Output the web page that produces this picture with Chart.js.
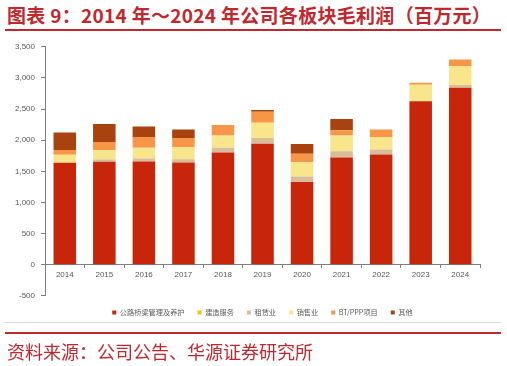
<!DOCTYPE html>
<html>
<head>
<meta charset="utf-8">
<script src="https://cdn.jsdelivr.net/npm/chart.js@4.4.1/dist/chart.umd.min.js"></script>
<style>
  body { margin: 0; background: #fff; width: 507px; height: 366px; overflow: hidden; position: relative; font-family: "Noto Sans CJK SC", sans-serif; }
  #title { position: absolute; left: 7px; top: 1px; font-size: 19px; font-weight: bold; color: #C0282E; white-space: nowrap; letter-spacing: 0.3px; }
  #topline { position: absolute; left: 5px; top: 29px; width: 496px; height: 2px; background: #C0282E; }
  #grayline { position: absolute; left: 5px; top: 322px; width: 496px; height: 1px; background: #d9d9d9; }
  #botline { position: absolute; left: 5px; top: 332px; width: 496px; height: 2px; background: #C0282E; }
  #source { position: absolute; left: 7px; top: 338px; font-size: 18px; color: #C0282E; white-space: nowrap; }
  #wrap { position: absolute; left: 0; top: 36px; width: 507px; height: 290px; }
</style>
</head>
<body>
<div id="title">图表 9：2014 年～2024 年公司各板块毛利润（百万元）</div>
<div id="topline"></div>
<div id="wrap"><canvas id="chart"></canvas></div>
<div id="grayline"></div>
<div id="botline"></div>
<div id="source">资料来源：公司公告、华源证券研究所</div>
<script>
// 年份
const years = ['2014', '2015', '2016', '2017', '2018', '2019', '2020', '2021', '2022', '2023', '2024'];

// 各板块毛利润（百万元）
const highway = [1636, 1652, 1657, 1640, 1803, 1944, 1327, 1722, 1770, 2626, 2843];
const construction = [0, 0, 0, 0, 0, 0, 0, 0, 0, 0, 0];
const leasing = [0, 38, 48, 55, 76, 92, 91, 102, 82, 0, 43];
const sales = [130, 152, 174, 195, 195, 243, 228, 250, 200, 265, 302];
const btppp = [76, 130, 173, 146, 168, 179, 136, 86, 120, 33, 109];
const others = [281, 286, 167, 136, 0, 27, 156, 179, 0, 0, 0];

const seriesNames = ['公路桥梁管理及养护', '建造服务', '租赁业', '销售业', 'BT/PPP项目', '其他'];
const seriesColors = ['#C8260A', '#FFC000', '#D9BC98', '#F8E58C', '#F79646', '#A8430F'];

// 图例整体右移一点
const legendShift = {
    id: 'legendShift',
    afterLayout(chart) {
        chart.legend.left += 18;
        chart.legend.right += 18;
    }
};

document.addEventListener('DOMContentLoaded', function () {
    const allData = [highway, construction, leasing, sales, btppp, others];
    const datasets = allData.map((d, i) => ({
        label: seriesNames[i],
        data: d,
        backgroundColor: seriesColors[i],
        borderWidth: 0,
        categoryPercentage: 1,
        barPercentage: 0.57
    }));

    const ctx = document.getElementById('chart').getContext('2d');
    new Chart(ctx, {
        type: 'bar',
        data: { labels: years, datasets: datasets },
        plugins: [legendShift],
        options: {
            responsive: true,
            maintainAspectRatio: false,
            animation: false,
            layout: { padding: { top: 8, right: 27, left: 9, bottom: 0 } },
            plugins: {
                legend: {
                    position: 'bottom',
                    labels: {
                        boxWidth: 4,
                        boxHeight: 4,
                        padding: 13,
                        color: '#595959',
                        font: { size: 7.2, family: '"Noto Sans CJK SC", sans-serif' }
                    }
                },
                tooltip: { enabled: false }
            },
            scales: {
                x: {
                    stacked: true,
                    position: { y: 0 },
                    grid: { display: true, drawOnChartArea: false, drawTicks: true, tickLength: 3, color: '#7f7f7f', offset: true },
                    border: { color: '#7f7f7f', width: 1 },
                    ticks: { color: '#595959', font: { size: 8, family: 'Arial, "Liberation Sans", sans-serif' }, padding: 2 }
                },
                y: {
                    stacked: true,
                    min: -500,
                    max: 3500,
                    grid: { drawOnChartArea: false, drawTicks: true, tickLength: 4, color: '#7f7f7f' },
                    border: { color: '#7f7f7f', width: 1 },
                    ticks: { stepSize: 500, color: '#595959', padding: 6, font: { size: 8, family: 'Arial, "Liberation Sans", sans-serif' } }
                }
            }
        }
    });
});
</script>
</body>
</html>
